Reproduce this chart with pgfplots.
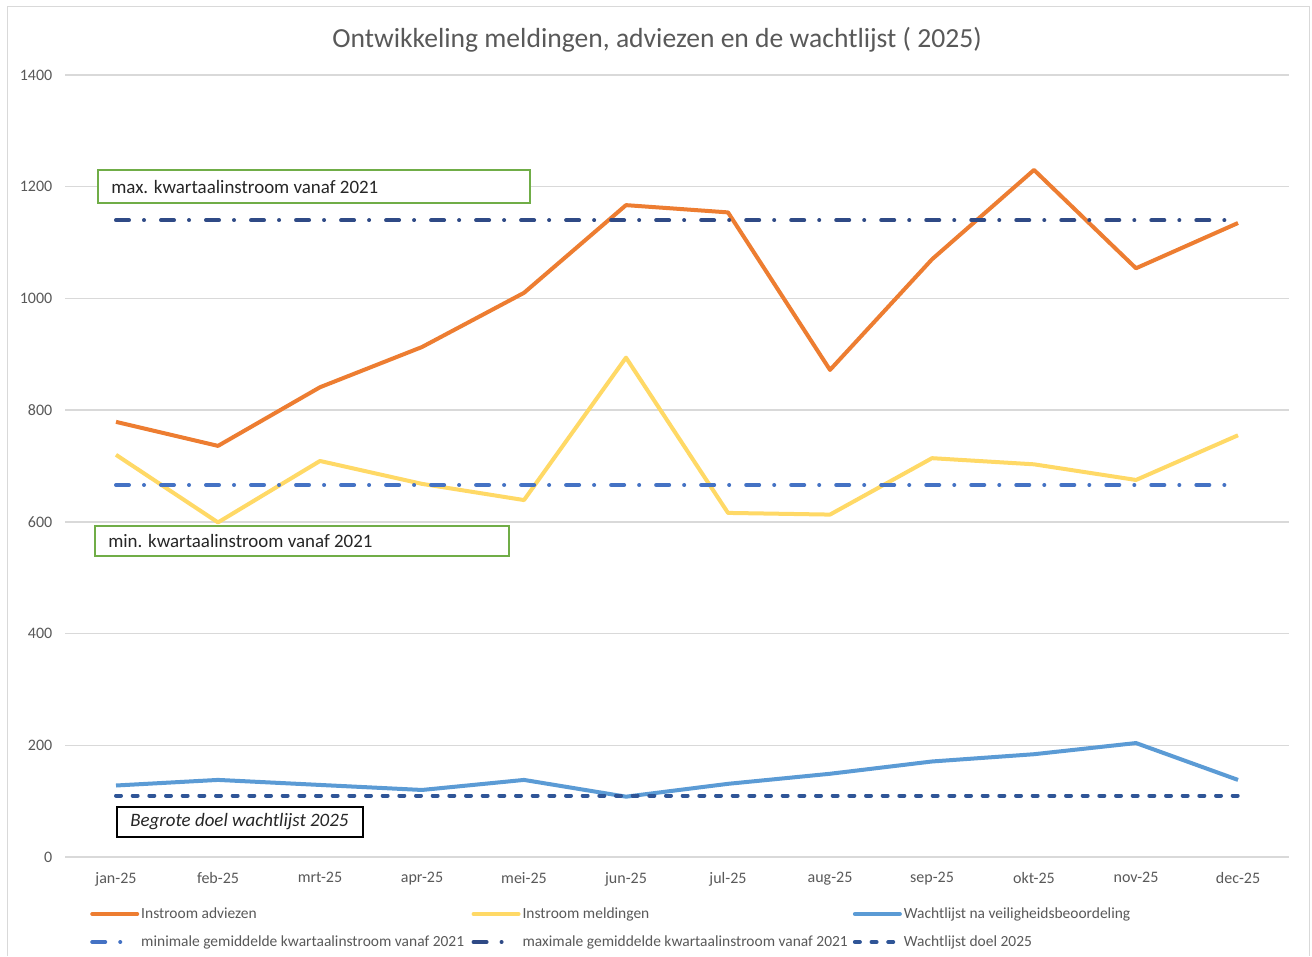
\documentclass[border=0pt]{standalone}
\usepackage{pgfplots}
\pgfplotsset{compat=1.18}
\usepackage{fontspec}
\setmainfont{Carlito}
\definecolor{cOrange}{HTML}{ED7D31}
\definecolor{cYellow}{HTML}{FFD966}
\definecolor{cBlue}{HTML}{5B9BD5}
\definecolor{cMin}{HTML}{4472C4}
\definecolor{cMax}{HTML}{2F4A86}
\definecolor{cDoel}{HTML}{2F5597}
\definecolor{cGrid}{HTML}{D9D9D9}
\definecolor{cText}{HTML}{595959}
\definecolor{cGreen}{HTML}{70AD47}
\begin{document}
\begin{tikzpicture}
\useasboundingbox (0pt,0pt) rectangle (984pt,717pt);
\fill[white] (0pt,0pt) rectangle (984pt,717pt);
\draw[cGrid, line width=0.75pt] (5.25pt,0pt) -- (5.25pt,711.75pt) -- (981.75pt,711.75pt) -- (981.75pt,0pt);
\begin{axis}[
  at={(48.75pt,74.25pt)}, anchor=south west,
  width=918pt, height=586.5pt, scale only axis,
  xmin=-0.5, xmax=11.5, ymin=0, ymax=1400,
  xtick={0,...,11},
  xticklabels={jan-25,feb-25,mrt-25,apr-25,mei-25,jun-25,jul-25,aug-25,sep-25,okt-25,nov-25,dec-25},
  ytick={0,200,...,1400},
  ymajorgrids, grid style={cGrid, line width=1.1pt},
  axis line style={draw=none},
  major tick length=0pt,
  /pgf/number format/assume math mode=true,
  /pgf/number format/1000 sep={},
  ticklabel style={font=\fontsize{12}{14}\selectfont, text=cText},
  yticklabel style={xshift=-6pt},
  xticklabel style={yshift=-8pt},
  legend columns=3,
  legend style={at={(0.0204,-0.0908)}, anchor=west, draw=none, fill=none, inner sep=0pt,
    font=\fontsize{11.6}{13.5}\selectfont, text=cText,
    nodes={inner sep=0pt, text height=8.5pt, text depth=2.5pt, anchor=west},
    row sep=10pt,
    /tikz/every odd column/.append style={column sep=1.5pt},
    /tikz/every even column/.append style={column sep=0pt}},
  legend cell align=left,
  legend image code/.code={\draw[#1, line cap=round] (0pt,0pt) -- (33.75pt,0pt);},
]
\addplot[cOrange, line width=3pt, line join=round] coordinates {
 (0,779) (1,736) (2,841) (3,913) (4,1010) (5,1167) (6,1154) (7,872) (8,1070) (9,1230) (10,1054) (11,1135)};
\addlegendentry{\makebox[247.75pt][l]{Instroom adviezen}}
\addplot[cYellow, line width=3pt, line join=round] coordinates {
 (0,720) (1,599) (2,709) (3,668) (4,639) (5,894) (6,616) (7,613) (8,714) (9,703) (10,675) (11,755)};
\addlegendentry{\makebox[247.75pt][l]{Instroom meldingen}}
\addplot[cBlue, line width=3pt, line join=round] coordinates {
 (0,128) (1,138) (2,129) (3,120) (4,138) (5,108) (6,131) (7,149) (8,171) (9,184) (10,204) (11,138)};
\addlegendentry{Wachtlijst na veiligheidsbeoordeling}
\addplot[cMin, line width=3pt, line cap=round, dash pattern=on 9.75pt off 11.25pt on 0.01pt off 12.75pt] coordinates {
 (0,666) (1,666) (2,666) (3,666) (4,666) (5,666) (6,666) (7,666) (8,666) (9,666) (10,666) (11,666)};
\addlegendentry{\makebox[247.75pt][l]{minimale gemiddelde kwartaalinstroom vanaf 2021}}
\addplot[cMax, line width=3pt, line cap=round, dash pattern=on 9.75pt off 11.25pt on 0.01pt off 12.75pt] coordinates {
 (0,1140) (1,1140) (2,1140) (3,1140) (4,1140) (5,1140) (6,1140) (7,1140) (8,1140) (9,1140) (10,1140) (11,1140)};
\addlegendentry{\makebox[247.75pt][l]{maximale gemiddelde kwartaalinstroom vanaf 2021}}
\addplot[cDoel, line width=3pt, line cap=round, dash pattern=on 3.75pt off 8.75pt] coordinates {
 (0,110) (1,110) (2,110) (3,110) (4,110) (5,110) (6,110) (7,110) (8,110) (9,110) (10,110) (11,110)};
\addlegendentry{Wachtlijst doel 2025}
\end{axis}
\node[text=cText, font=\fontsize{20.7}{24}\selectfont] at (492.75pt,687pt) {Ontwikkeling meldingen, adviezen en de wachtlijst ( 2025)};
% annotation boxes
\draw[cGreen, line width=1.1pt, fill=white] (73.5pt,564.75pt) rectangle (397.5pt,589.5pt);
\node[anchor=west, inner sep=0pt, font=\fontsize{14.2}{17}\selectfont, text=black!85] at (83.25pt,576.75pt) {max. kwartaalinstroom vanaf 2021};
\draw[cGreen, line width=1.1pt, fill=white] (71.25pt,300pt) rectangle (381.75pt,322.5pt);
\node[anchor=west, inner sep=0pt, font=\fontsize{14.2}{17}\selectfont, text=black!85] at (81pt,311.25pt) {min. kwartaalinstroom vanaf 2021};
\draw[black, line width=1.1pt, fill=white] (87.75pt,89.25pt) rectangle (272.25pt,111.75pt);
\node[anchor=west, inner sep=0pt, font=\fontsize{14.2}{17}\selectfont\itshape, text=black!85] at (97.5pt,100.5pt) {Begrote doel wachtlijst 2025};
\end{tikzpicture}
\end{document}
